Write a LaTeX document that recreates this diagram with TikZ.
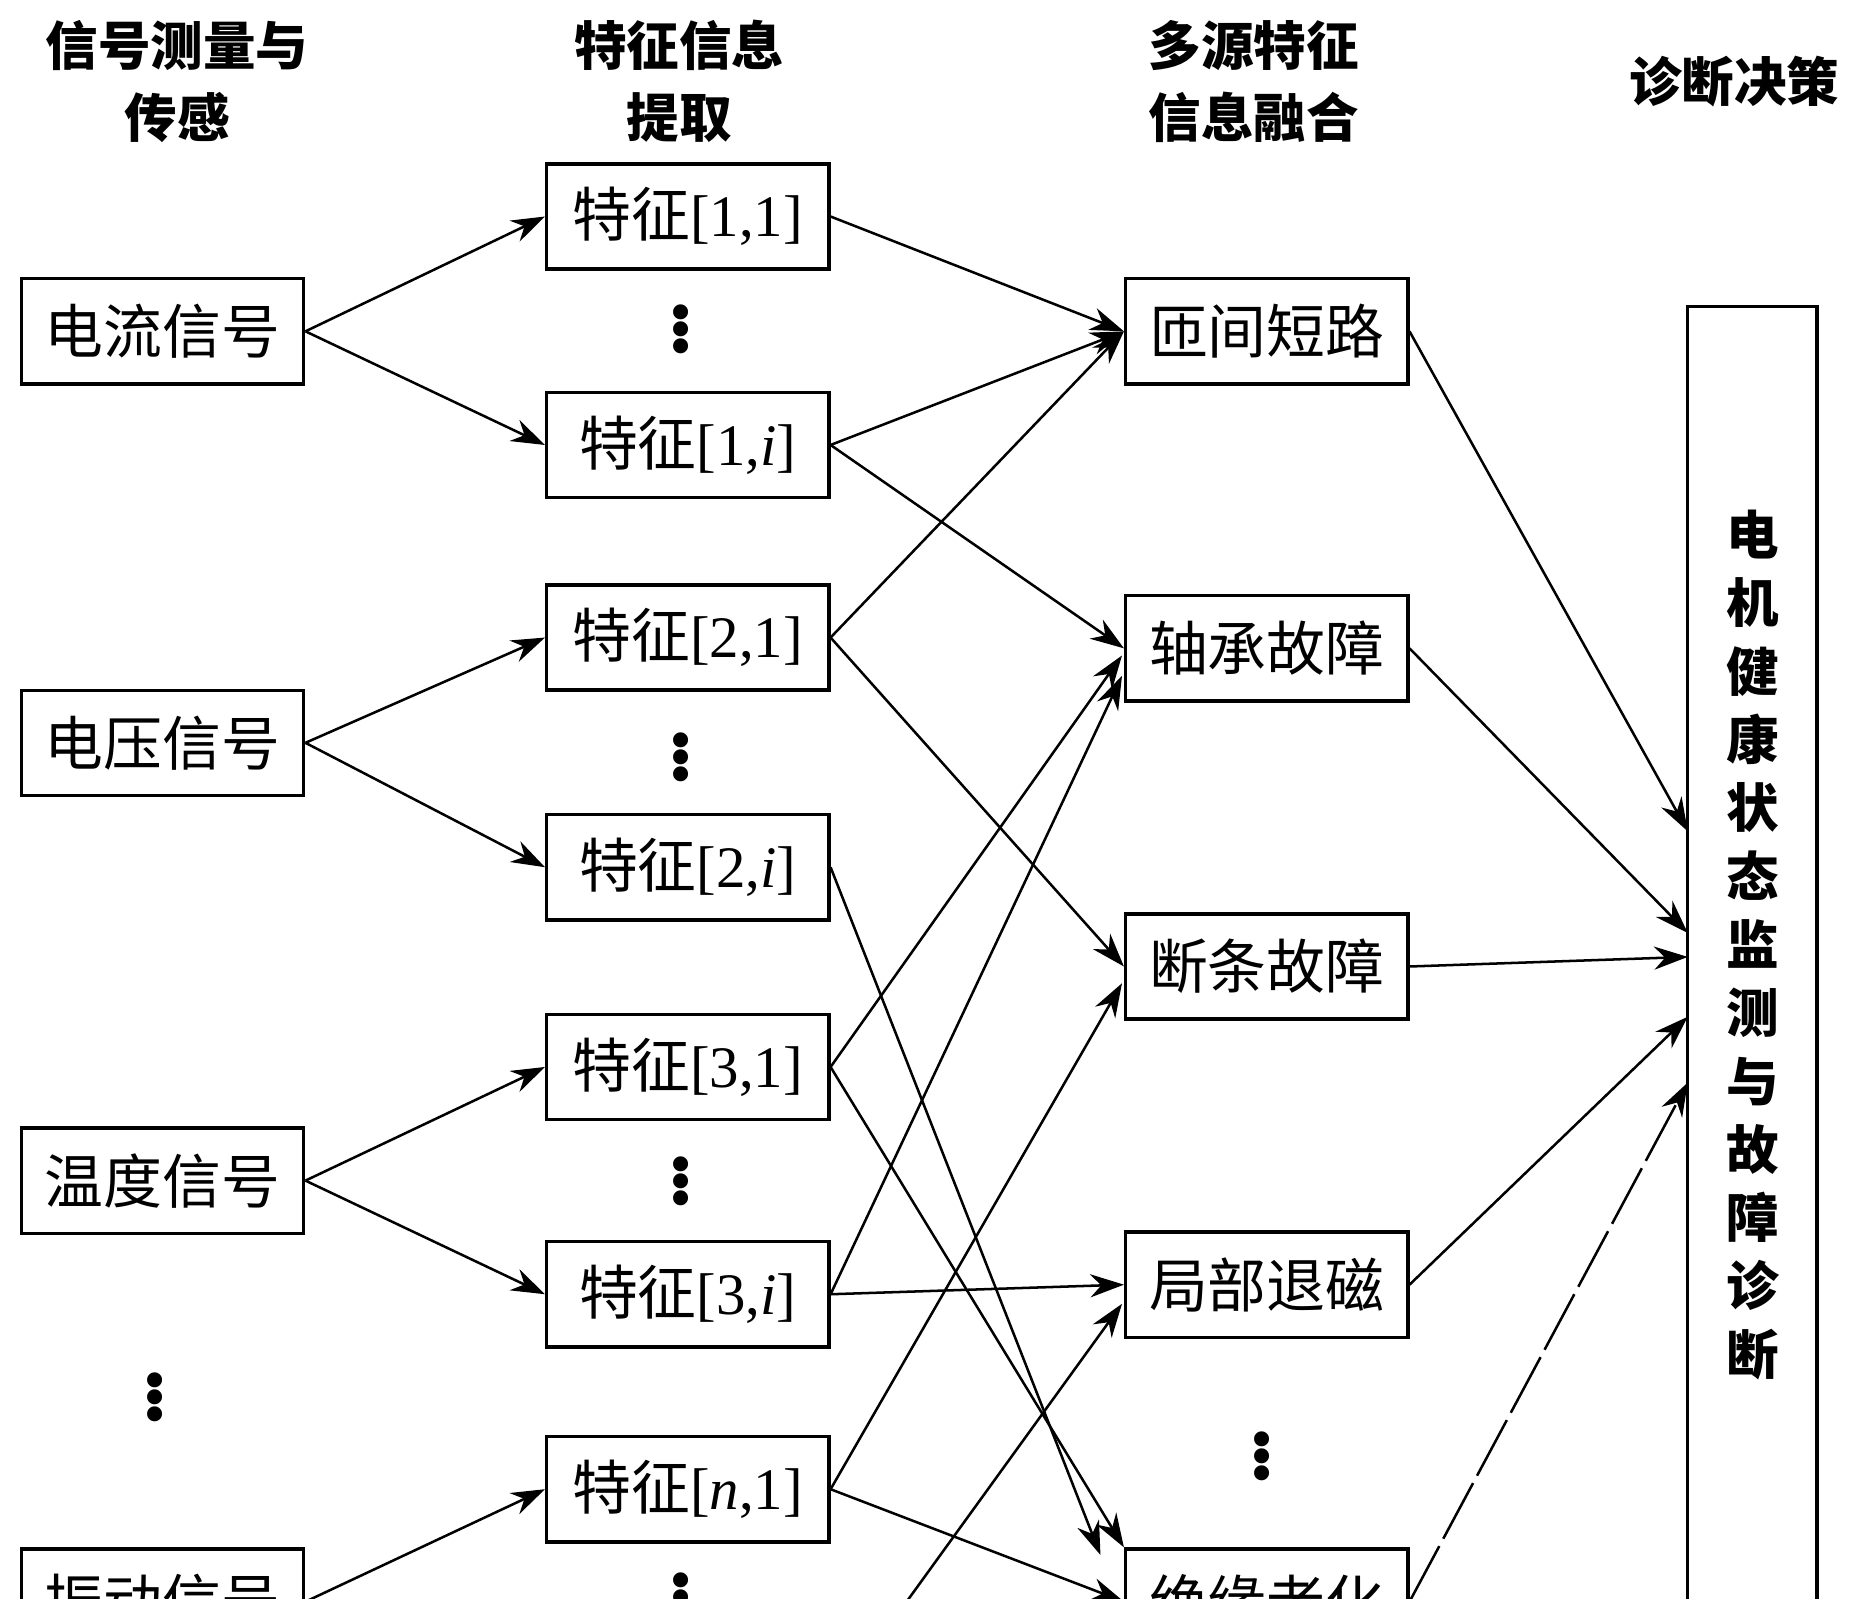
\documentclass[tikz,border=0pt]{standalone}
\usepackage{fontspec}
\setmainfont{Liberation Serif}
\newfontfamily\cjk{Noto Sans CJK SC}
\usetikzlibrary{arrows.meta}
\begin{document}
\begin{tikzpicture}[x=0.02cm,y=-0.02cm,
 bx/.style={draw,line width=1.6pt,minimum width=4.72cm,minimum height=1.76cm,inner sep=0pt,font=\fontsize{28}{30}\selectfont},
 hd/.style={align=center,font=\cjk\bfseries\fontsize{25}{34}\selectfont},
 ar/.style={line width=1.2pt,-{Stealth[length=16pt,width=11pt]}},
 dt/.style={inner sep=0pt,font=\bfseries\fontsize{44}{44}\selectfont}]
\useasboundingbox (0,0) rectangle (1560,1336);
\clip (0,0) rectangle (1560,1336);
\node[hd] (h1) at (148,68) {信号测量与\\传感};
\node[hd] (h2) at (568,68) {特征信息\\提取};
\node[hd] (h3) at (1048,68) {多源特征\\信息融合};
\node[hd] (h4) at (1450,68) {诊断决策};
% left
\node[bx] (s1) at (136,277) {\cjk 电流信号};
\node[bx] (s2) at (136,621) {\cjk 电压信号};
\node[bx] (s3) at (136,987) {\cjk 温度信号};
\node[bx] (s4) at (136,1339) {\cjk 振动信号};
\node[dt] (d0) at (130,1163) {$\vdots$};
% middle
\node[bx] (f11) at (575,181) {{\cjk 特征}[1,1]};
\node[bx] (f1i) at (575,372) {{\cjk 特征}[1,\textit{i}]};
\node[bx] (f21) at (575,533) {{\cjk 特征}[2,1]};
\node[bx] (f2i) at (575,725) {{\cjk 特征}[2,\textit{i}]};
\node[bx] (f31) at (575,892) {{\cjk 特征}[3,1]};
\node[bx] (f3i) at (575,1082) {{\cjk 特征}[3,\textit{i}]};
\node[bx] (fn1) at (575,1245) {{\cjk 特征}[\textit{n},1]};
\node[dt] (d1) at (569,270) {$\vdots$};
\node[dt] (d2) at (569,628) {$\vdots$};
\node[dt] (d3) at (569,982) {$\vdots$};
\node[dt] (d4) at (569,1330) {$\vdots$};
% right
\node[bx] (r1) at (1059,277) {\cjk 匝间短路};
\node[bx] (r2) at (1059,542) {\cjk 轴承故障};
\node[bx] (r3) at (1059,808) {\cjk 断条故障};
\node[bx] (r4) at (1059,1074) {\cjk 局部退磁};
\node[bx] (r5) at (1059,1339) {\cjk 绝缘老化};
\node[dt] (d5) at (1055,1212) {$\vdots$};
% big box
\node[draw,line width=1.6pt,minimum width=2.16cm,minimum height=23cm,anchor=north] (big) at (1465,255) {};
\node[align=center,font=\cjk\bfseries\fontsize{25}{32.5}\selectfont] (bt) at (1465,790) {电\\机\\健\\康\\状\\态\\监\\测\\与\\故\\障\\诊\\断};
\coordinate (bot1) at (750,1350);
\coordinate (t1) at (1411,695);
\coordinate (t2) at (1411,780);
\coordinate (t3) at (1411,800);
\coordinate (t4) at (1411,850);
\coordinate (t5) at (1411,905);
\coordinate (rb) at (938,565);
\coordinate (rb2) at (938,548);
\coordinate (rc) at (938,822);
\coordinate (rd) at (938,1090);
\coordinate (re) at (920,1300);
% edges
\draw[ar] (s1.east) -- (f11.west);
\draw[ar] (s1.east) -- (f1i.west);
\draw[ar] (s2.east) -- (f21.west);
\draw[ar] (s2.east) -- (f2i.west);
\draw[ar] (s3.east) -- (f31.west);
\draw[ar] (s3.east) -- (f3i.west);
\draw[ar] (s4.east) -- (fn1.west);
\draw[ar] (f11.east) -- (r1.west);
\draw[ar] (f1i.east) -- (r1.west);
\draw[ar] (f1i.east) -- (r2.west);
\draw[ar] (f21.east) -- (r1.west);
\draw[ar] (f21.east) -- (r3.west);
\draw[ar] (f2i.east) -- (re);
\draw[ar] (f31.east) -- (rb2);
\draw[ar] (f31.east) -- (r5.north west);
\draw[ar] (f3i.east) -- (rb);
\draw[ar] (f3i.east) -- (r4.west);
\draw[ar] (fn1.east) -- (rc);
\draw[ar] (fn1.east) -- (r5.west);
\draw[ar] (bot1) -- (rd);
\draw[ar] (r1.east) -- (t1);
\draw[ar] (r2.east) -- (t2);
\draw[ar] (r3.east) -- (t3);
\draw[ar] (r4.east) -- (t4);
\draw[ar,dash pattern=on 30pt off 4pt] (r5.east) -- (t5);
\end{tikzpicture}
\end{document}
